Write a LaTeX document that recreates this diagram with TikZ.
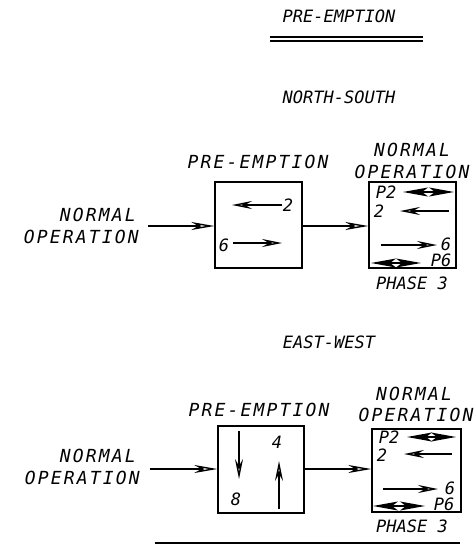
\documentclass[tikz,border=0pt]{standalone}
\usepackage{fontspec}
\setmonofont{DejaVu Sans Mono}
\usetikzlibrary{arrows.meta}

\begin{document}
\begin{tikzpicture}[x=1pt,y=-1pt,
  lbl/.style={font=\fontsize{18}{19}\selectfont\ttfamily\itshape\addfontfeature{LetterSpace=12},inner sep=0pt},
  head/.style={font=\fontsize{17}{18}\selectfont\ttfamily\itshape,inner sep=0pt},
  num/.style={font=\fontsize{17}{18}\selectfont\ttfamily\itshape,inner sep=0pt},
  phasebox/.style={draw,line width=1.4pt,inner sep=0pt},
  flow/.style={line width=1.4pt,-{Stealth[open,length=23pt,width=8pt,inset=7pt]}},
  sig/.style={line width=1.4pt,-{Stealth[open,length=20pt,width=8pt,inset=7pt]}},
  both/.style={line width=1.4pt,{Stealth[length=25pt,width=9pt,inset=6pt]}-{Stealth[length=25pt,width=9pt,inset=6pt]}}]
\useasboundingbox (0,0) rectangle (474,544);
\node[head] (title) at (339,16) {PRE-EMPTION};
\draw[line width=1.4pt] (270,37) -- (423,37) (270,41) -- (423,41);
\node[head] (ns) at (339,97) {NORTH-SOUTH};
\node[lbl,anchor=east] (nsin1) at (136,215) {NORMAL};
\node[lbl,anchor=east] (nsin2) at (139,237) {OPERATION};
\coordinate (nsin) at (148,226);
\node[lbl] (nspe) at (258,162) {PRE-EMPTION};
\node[phasebox,minimum width=87,minimum height=86] (nsbox) at (258.5,225) {};
\node[lbl] (nsno1) at (412,150) {NORMAL};
\node[lbl] (nsno2) at (412,172) {OPERATION};
\node[phasebox,minimum width=87,minimum height=86] (nsout) at (412.5,225) {};
\node[head] (nsph) at (412,283) {PHASE 3};
\draw[flow] (nsin) -- (nsbox.west |- nsin);
\draw[flow] (nsbox.east |- nsin) -- (nsout.west |- nsin);
\draw[sig] (282,205) -- (232,205);
\node[num] at (288,205) {2};
\node[num] at (224,245) {6};
\draw[sig] (233,243) -- (282,243);
\node[num] at (386,192) {P2};
\draw[both] (403,192) -- (454,192);
\node[num] at (379,211) {2};
\draw[sig] (449,211) -- (400,211);
\node[num] at (446,244) {6};
\draw[sig] (381,245) -- (437,245);
\node[num] at (441,260) {P6};
\draw[both] (371,263) -- (421,263);
\node[head] (ew) at (329,342) {EAST-WEST};
\node[lbl,anchor=east] (ewin1) at (136,456) {NORMAL};
\node[lbl,anchor=east] (ewin2) at (140,478) {OPERATION};
\coordinate (ewin) at (150,469);
\node[lbl] (ewpe) at (259,410) {PRE-EMPTION};
\node[phasebox,minimum width=86,minimum height=87] (ewbox) at (261,469.5) {};
\node[lbl] (ewno1) at (414,394) {NORMAL};
\node[lbl] (ewno2) at (416,415) {OPERATION};
\node[phasebox,minimum width=89,minimum height=83] (ewout) at (416.5,470.5) {};
\node[head] (ewph) at (412,526) {PHASE 3};
\draw[flow] (ewin) -- (ewbox.west |- ewin);
\draw[flow] (ewbox.east |- ewin) -- (ewout.west |- ewin);
\draw[sig] (239,431) -- (239,479);
\node[num] at (236,499) {8};
\node[num] at (277,442) {4};
\draw[sig] (279,509) -- (279,461);
\node[num] at (389,437) {P2};
\draw[both] (407,437) -- (456,437);
\node[num] at (382,455) {2};
\draw[sig] (452,454) -- (404,454);
\node[num] at (450,488) {6};
\draw[sig] (383,489) -- (438,489);
\node[num] at (444,504) {P6};
\draw[both] (373,506) -- (425,506);
\draw[line width=1.4pt] (155,543) -- (460,543);
\end{tikzpicture}
\end{document}
